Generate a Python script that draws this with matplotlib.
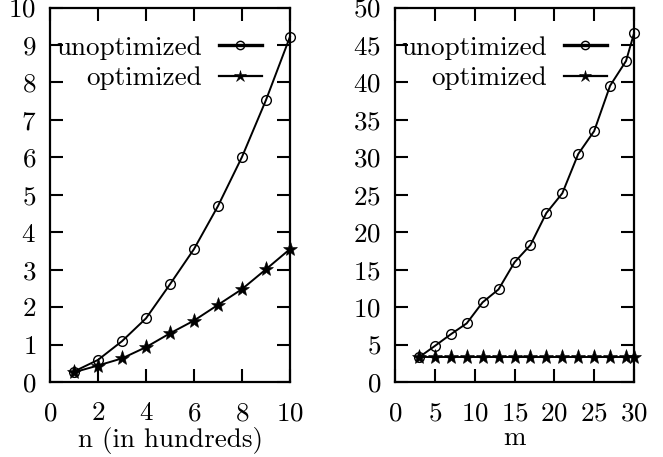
import matplotlib
matplotlib.use("Agg")
import matplotlib.pyplot as plt
from matplotlib.lines import Line2D

plt.rcParams['font.family'] = ['cmr10', 'DejaVu Serif']
plt.rcParams['mathtext.fontset'] = 'cm'
plt.rcParams['axes.unicode_minus'] = False
plt.rcParams['axes.formatter.use_mathtext'] = True

# Left panel data
n_vals = [1, 2, 3, 4, 5, 6, 7, 8, 9, 10]
n_unopt = [0.28, 0.59, 1.09, 1.70, 2.61, 3.55, 4.70, 6.01, 7.53, 9.22]
n_opt = [0.26, 0.44, 0.63, 0.93, 1.30, 1.64, 2.06, 2.48, 3.01, 3.55]

# Right panel data
m_vals = [3, 5, 7, 9, 11, 13, 15, 17, 19, 21, 23, 25, 27, 29, 30]
m_unopt = [3.29, 4.81, 6.37, 7.83, 10.64, 12.37, 15.98, 18.29, 22.56,
           25.19, 30.44, 33.5, 39.56, 42.86, 46.55]
m_opt = [3.38, 3.38, 3.38, 3.38, 3.38, 3.38, 3.38, 3.38, 3.38,
         3.38, 3.38, 3.38, 3.38, 3.38, 3.38]

labels = ["unoptimized", "optimized"]
left_xticks = [0, 2, 4, 6, 8, 10]
left_yticks = [0, 1, 2, 3, 4, 5, 6, 7, 8, 9, 10]
right_xticks = [0, 5, 10, 15, 20, 25, 30]
right_yticks = [0, 5, 10, 15, 20, 25, 30, 35, 40, 45, 50]

W, H = 663, 457
fig = plt.figure(figsize=(W / 100, H / 100), dpi=100)

FS = 19.5

def make_ax(l, r, t, b):
    return fig.add_axes([l / W, 1 - b / H, (r - l) / W, (b - t) / H])

def style(ax, xlim, ylim, xt, yt, xlabel):
    ax.set_xlim(*xlim)
    ax.set_ylim(*ylim)
    ax.set_xticks(xt)
    ax.set_yticks(yt)
    ax.tick_params(direction='in', length=9.5, width=1.5, top=True, right=True,
                   labelsize=FS)
    ax.tick_params(axis='x', pad=14)
    ax.tick_params(axis='y', pad=10)
    for s in ax.spines.values():
        s.set_linewidth(1.6)
    ax.set_xlabel(xlabel, fontsize=FS, labelpad=1)

def draw(ax, x, yu, yo, lx, ly):
    ax.plot(x, yu, color='black', lw=1.4, marker='o', markersize=7,
            markerfacecolor='none', markeredgewidth=1.0, clip_on=False)
    ax.plot(x, yo, color='black', lw=1.4, marker='*', markersize=11,
            markerfacecolor='black', markeredgewidth=0.4, clip_on=False)
    handles = [
        Line2D([], [], color='black', lw=2.4, marker='o', markersize=6,
               markerfacecolor='none', markeredgewidth=1.0),
        Line2D([], [], color='black', lw=1.6, marker='*', markersize=9,
               markerfacecolor='black', markeredgewidth=0.4),
    ]
    ax.legend(handles, labels, loc='center right', bbox_to_anchor=(lx, ly),
              frameon=False, markerfirst=False, fontsize=FS, borderpad=0,
              borderaxespad=0, handlelength=1.6, handletextpad=0.6,
              labelspacing=0.25, numpoints=1)

ax1 = make_ax(50, 290, 7.5, 382)
style(ax1, (0, 10), (0, 10), left_xticks, left_yticks, "n (in hundreds)")
draw(ax1, n_vals, n_unopt, n_opt, (262 - 50) / 240, (382 - 63) / 374.5)

ax2 = make_ax(395, 634, 7.5, 382)
style(ax2, (0, 30), (0, 50), right_xticks, right_yticks, "m")
draw(ax2, m_vals, m_unopt, m_opt, (607 - 395) / 239, (382 - 63) / 374.5)

fig.savefig("out.png", dpi=100)
